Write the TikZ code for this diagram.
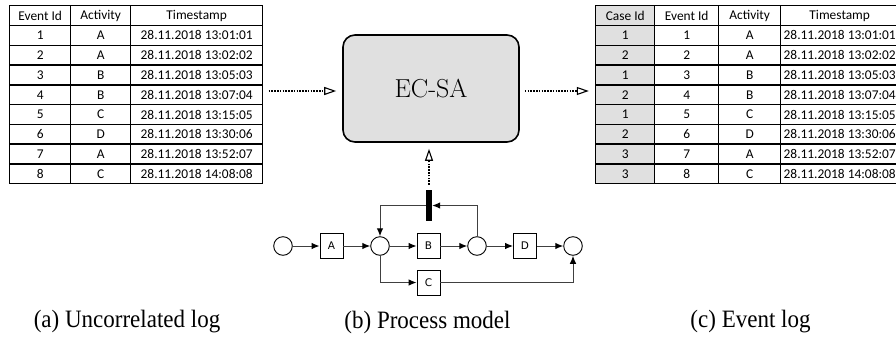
\documentclass[tikz,border=0pt]{standalone}
\usepackage{fontspec}
\newfontfamily\tablefont{Carlito}
\newfontfamily\capfont{Liberation Serif}
\newfontfamily\netfont{DejaVu Sans}
\usetikzlibrary{arrows.meta,fit}
\definecolor{boxgray}{HTML}{E0E0E0}
\tikzset{
  cell/.style={draw, line width=1.4pt, minimum height=19.78pt, inner sep=0pt,
    anchor=north west, font=\tablefont\fontsize{13.4}{15}\selectfont},
  keycell/.style={cell, fill=boxgray},
  flow/.style={line width=1.8pt, dash pattern=on 1.6pt off 1.2pt,
    -{Triangle[open, length=12pt, width=8pt, line width=1.1pt]},
    shorten <=5pt, shorten >=6pt},
  place/.style={circle, draw, line width=0.9pt, minimum size=18.6pt, inner sep=0pt, fill=white},
  trans/.style={draw, line width=0.9pt, minimum width=23pt, minimum height=25pt,
    inner sep=0pt, fill=white, font=\netfont\fontsize{10.5}{12}\selectfont},
  silent/.style={fill=black, minimum width=6pt, minimum height=31pt, inner sep=0pt},
  arc/.style={draw=black!75, line width=1pt, -{Latex[length=8pt, width=6.5pt, black]}},
  caption/.style={font=\capfont\fontsize{25}{29}\selectfont, xscale=0.92},
}
\begin{document}
\begin{tikzpicture}[x=1pt, y=-1pt]
\clip (0,0) rectangle (896,348);
\def\rowh{19.78}

% uncorrelated log
\node[cell, minimum width=61pt]  (L0a) at (9,5)   {Event Id};
\node[cell, minimum width=60pt]  (L0b) at (70,5)  {Activity};
\node[cell, minimum width=132pt] (L0c) at (130,5) {Timestamp};
\foreach \e/\a/\t [count=\i] in {
  1/A/28.11.2018 13:01:01, 2/A/28.11.2018 13:02:02, 3/B/28.11.2018 13:05:03,
  4/B/28.11.2018 13:07:04, 5/C/28.11.2018 13:15:05, 6/D/28.11.2018 13:30:06,
  7/A/28.11.2018 13:52:07, 8/C/28.11.2018 14:08:08} {
  \node[cell, minimum width=61pt]  (L\i a) at (9,   {5+\i*\rowh}) {\e};
  \node[cell, minimum width=60pt]  (L\i b) at (70,  {5+\i*\rowh}) {\a};
  \node[cell, minimum width=132pt] (L\i c) at (130, {5+\i*\rowh}) {\t};
}
\node[fit=(L0a)(L8c), inner sep=0pt] (ltab) {};

% event log with case ids
\node[keycell, minimum width=59pt] (R0a) at (595,5) {Case Id};
\node[cell, minimum width=64pt]    (R0b) at (654,5) {Event Id};
\node[cell, minimum width=62pt]    (R0c) at (718,5) {Activity};
\node[cell, minimum width=118pt]   (R0d) at (780,5) {Timestamp};
\foreach \k/\e/\a/\t [count=\i] in {
  1/1/A/28.11.2018 13:01:01, 2/2/A/28.11.2018 13:02:02, 1/3/B/28.11.2018 13:05:03,
  2/4/B/28.11.2018 13:07:04, 1/5/C/28.11.2018 13:15:05, 2/6/D/28.11.2018 13:30:06,
  3/7/A/28.11.2018 13:52:07, 3/8/C/28.11.2018 14:08:08} {
  \node[keycell, minimum width=59pt] (R\i a) at (595, {5+\i*\rowh}) {\k};
  \node[cell, minimum width=64pt]    (R\i b) at (654, {5+\i*\rowh}) {\e};
  \node[cell, minimum width=62pt]    (R\i c) at (718, {5+\i*\rowh}) {\a};
  \node[cell, minimum width=118pt]   (R\i d) at (780, {5+\i*\rowh}) {\t};
}
\node[fit=(R0a)(R8d), inner sep=0pt] (rtab) {};

% correlation engine
\node[draw, line width=1.6pt, rounded corners=12pt, fill=boxgray,
  minimum width=176pt, minimum height=107pt,
  font=\fontsize{26}{30}\selectfont] (ecsa) at (431,88.5) {EC-SA};
\coordinate (inL)  at ([yshift=-2.5pt]ecsa.west);
\coordinate (outR) at ([yshift=-2.5pt]ecsa.east);

% process model (Petri net)
\node[place] (p0) at (283,246) {};
\node[trans] (tA) at (331.5,246) {A};
\node[place] (p1) at (380,246) {};
\node[trans] (tB) at (428.5,246) {B};
\node[place] (p2) at (477,246) {};
\node[trans] (tD) at (525,246) {D};
\node[place] (p3) at (573,246) {};
\node[trans] (tC) at (428.5,282.5) {C};
\node[silent] (tau) at (429,205.5) {};

\draw[arc] (p0) -- (tA);
\draw[arc] (tA) -- (p1);
\draw[arc] (p1) -- (tB);
\draw[arc] (tB) -- (p2);
\draw[arc] (p2) -- (tD);
\draw[arc] (tD) -- (p3);
\draw[arc] (p2.north) |- (tau.east);
\draw[arc] (tau.west) -| (p1.north);
\draw[arc] (p1.south) |- (tC.west);
\draw[arc] (tC.east) -| (p3.south);

% data flow
\draw[flow] (ltab.east |- inL) -- (inL);
\draw[flow] (outR) -- (outR -| rtab.west);
\draw[flow] (tau.north) -- (tau.north |- ecsa.south);

% sub-captions
\node[caption] (capa) at (127,322)   {(a) Uncorrelated log};
\node[caption] (capb) at (427.5,322) {(b) Process model};
\node[caption] (capc) at (750.5,322) {(c) Event log};
\end{tikzpicture}
\end{document}
